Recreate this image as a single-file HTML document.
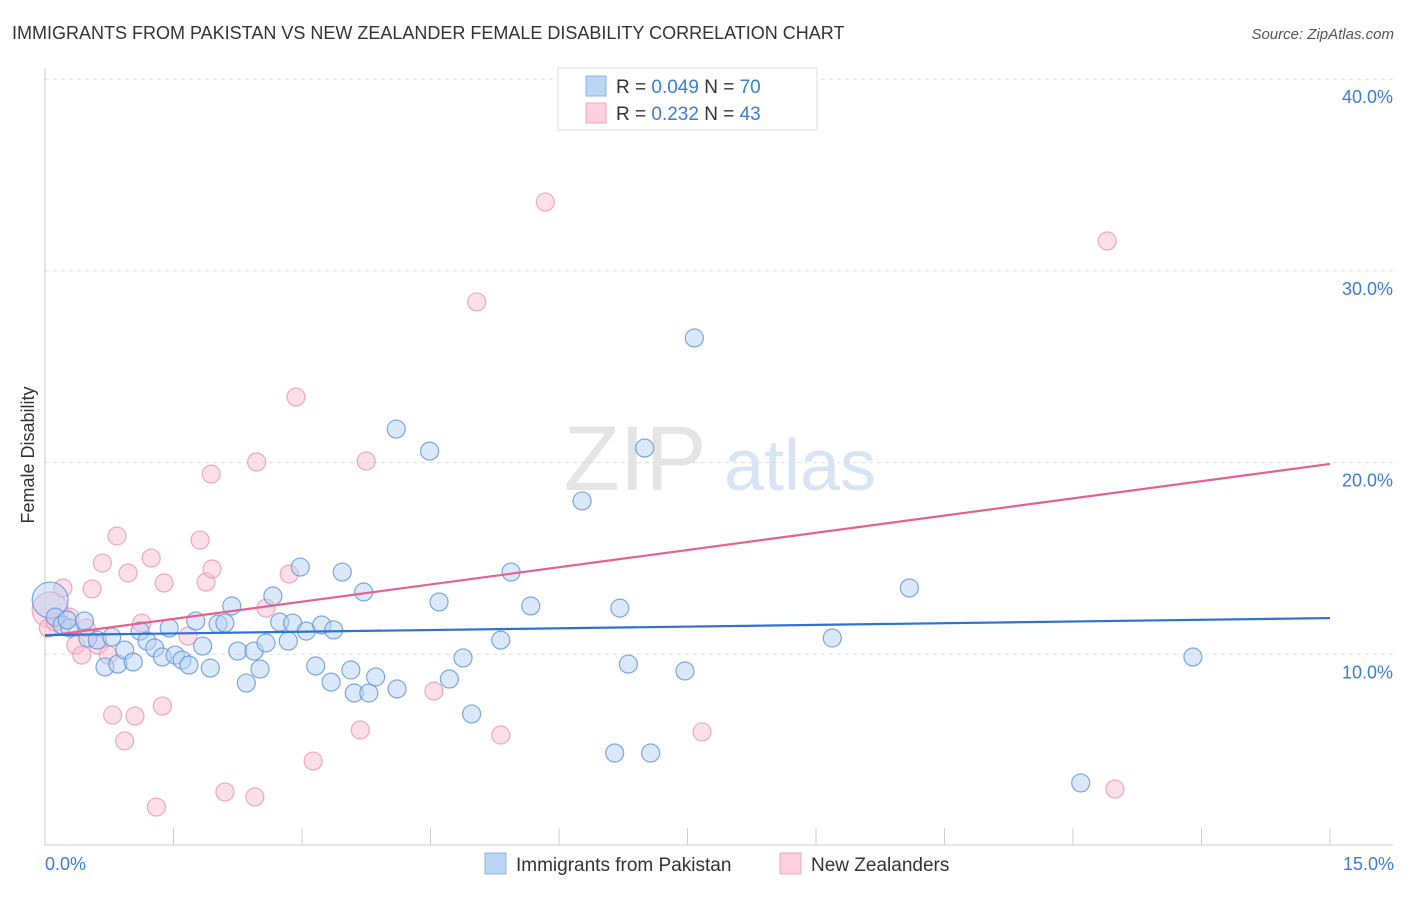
<!DOCTYPE html>
<html><head><meta charset="utf-8"><style>
body{margin:0;background:#fff;font-family:"Liberation Sans",sans-serif;}
svg text{font-family:"Liberation Sans",sans-serif;}
</style></head><body>
<svg width="1406" height="892" xmlns="http://www.w3.org/2000/svg">
<text x="12" y="39" font-size="18" fill="#333">IMMIGRANTS FROM PAKISTAN VS NEW ZEALANDER FEMALE DISABILITY CORRELATION CHART</text>
<text x="1394" y="39" font-size="15" fill="#555" font-style="italic" text-anchor="end">Source: ZipAtlas.com</text>
<g><text x="635" y="490" font-size="92" fill="#e4e4e4" font-family="Liberation Serif" text-anchor="middle">ZIP</text><text x="800" y="490" font-size="72" fill="#d6e4f5" text-anchor="middle">atlas</text></g>
<g id="grid"></g><g id="axes"></g><g id="marks"></g>
<text transform="translate(34,455) rotate(-90)" font-size="18" fill="#333" text-anchor="middle">Female Disability</text>
<text x="45" y="870" font-size="18" fill="#3b7dd8">0.0%</text>
<text x="1394" y="870" font-size="18" fill="#3b7dd8" text-anchor="end">15.0%</text>
<g>
<rect x="558" y="68" width="259" height="62" fill="#fff" stroke="#ddd"/>
<rect x="586" y="76" width="20" height="20" fill="#bcd5f5" stroke="#8ab3e8"/>
<rect x="586" y="103" width="20" height="20" fill="#fcd0dc" stroke="#f0a5ba"/>
<text x="616" y="93" font-size="19" fill="#333">R = <tspan fill="#3b7dd8">0.049</tspan>   N = <tspan fill="#3b7dd8">70</tspan></text>
<text x="616" y="120" font-size="19" fill="#333">R =  <tspan fill="#3b7dd8">0.232</tspan>   N = <tspan fill="#3b7dd8">43</tspan></text>
</g>
<g>
<rect x="485" y="853" width="21" height="21" fill="#bcd5f5" stroke="#8ab3e8"/>
<text x="516" y="871" font-size="19" fill="#333">Immigrants from Pakistan</text>
<rect x="780" y="853" width="21" height="21" fill="#fcd0dc" stroke="#f0a5ba"/>
<text x="811" y="871" font-size="19" fill="#333">New Zealanders</text>
</g>
</svg>
<script>
const yTicks=[10,20,30,40];
const blueX=[.06,.12,.20,.29,.26,.46,.50,.61,.70,.78,.85,.93,1.03,1.11,1.19,1.28,1.37,1.45,1.52,1.60,1.68,1.76,1.84,1.93,2.02,2.10,2.18,2.25,2.35,2.44,2.51,2.58,2.66,2.74,2.84,2.89,2.98,3.05,3.16,3.23,3.34,3.37,3.47,3.61,3.57,3.72,3.78,3.86,4.10,4.11,4.49,4.60,4.72,4.88,4.98,5.32,5.44,5.67,6.27,6.65,6.71,6.81,7.00,7.07,7.47,7.58,9.19,10.09,12.09,13.40];
const blueY=[12.83,11.94,11.53,11.37,11.79,11.74,10.85,10.74,9.34,10.90,9.49,10.22,9.60,11.21,10.69,10.33,9.86,11.37,9.96,9.70,9.44,11.74,10.43,9.28,11.58,11.63,12.52,10.17,8.50,10.17,9.23,10.59,13.04,11.68,10.69,11.63,14.55,11.21,9.39,11.53,8.55,11.27,14.29,7.98,9.18,13.25,7.98,8.82,21.75,8.19,20.60,12.73,8.71,9.81,6.89,10.74,14.29,12.52,18.00,4.85,12.41,9.49,20.76,4.85,9.13,26.50,10.85,13.46,3.29,9.86];
const pinkX=[.06,.04,.12,.21,.29,.36,.43,.48,.55,.62,.67,.74,.79,.84,.93,.97,1.05,1.13,1.24,1.30,1.37,1.39,1.67,1.81,1.88,1.94,1.95,2.10,2.45,2.47,2.58,2.85,2.93,3.13,3.68,3.75,4.54,5.04,5.32,5.84,7.67,12.40,12.49];
const pinkY=[12.31,11.37,11.68,13.46,11.94,10.48,9.96,11.37,13.41,10.48,14.76,9.96,6.83,16.17,5.48,14.24,6.78,11.63,15.02,2.03,7.30,13.72,10.95,15.96,13.77,19.40,14.45,2.82,2.56,20.03,12.41,14.19,23.42,4.43,6.05,20.08,8.08,28.38,5.79,33.59,5.95,31.56,2.97];
const blueTrend=[11.0,11.89];
const pinkTrend=[10.95,19.93];
const NS='http://www.w3.org/2000/svg';
const X0=45,X1=1330,Y0=846,PPY=19.17;
const sx=v=>X0+v/15*(X1-X0), sy=v=>Y0-v*PPY;
function mk(p,t,a){const e=document.createElementNS(NS,t);for(const k in a)e.setAttribute(k,a[k]);document.getElementById(p).appendChild(e);return e;}
yTicks.forEach(t=>{
 const l=mk('grid','line',{x1:45,x2:1393,y1:sy(t),y2:sy(t),stroke:'#ddd','stroke-dasharray':'4,4'});
 
 
 const tx=mk('grid','text',{x:1393,y:sy(t)+24,'font-size':18,fill:'#3b7dd8','text-anchor':'end'});
 tx.textContent=t.toFixed(1)+'%';
 
 
});
let a=mk('axes','line',{x1:45,x2:45,y1:68,y2:846,stroke:'#ccc'});

a=mk('axes','line',{x1:45,x2:1393,y1:845,y2:845,stroke:'#ccc'});

for(let i=1;i<=10;i++){const t=mk('axes','line',{x1:sx(i*1.5),x2:sx(i*1.5),y1:828,y2:845,stroke:'#ccc'});
 
 }
function pts(xs,ys,fill,stroke,name){xs.forEach((x,i)=>{const r=(i==0)?18:9;
 const c=mk('marks','circle',{cx:sx(x),cy:sy(ys[i]),r:r,fill:fill,'fill-opacity':0.5,stroke:stroke,'stroke-opacity':0.8,'stroke-width':1.2});
 
 });}
pts(pinkX,pinkY,'#f9c0d0','#ee94ae','pink-point');
pts(blueX,blueY,'#b8d2f3','#5b93e0','blue-point');
let t=mk('marks','line',{x1:sx(0),x2:sx(15),y1:sy(pinkTrend[0]),y2:sy(pinkTrend[1]),stroke:'#e8618c','stroke-width':2.2});

t=mk('marks','line',{x1:sx(0),x2:sx(15),y1:sy(blueTrend[0]),y2:sy(blueTrend[1]),stroke:'#2f72d6','stroke-width':2.2});

</script>
</body></html>
